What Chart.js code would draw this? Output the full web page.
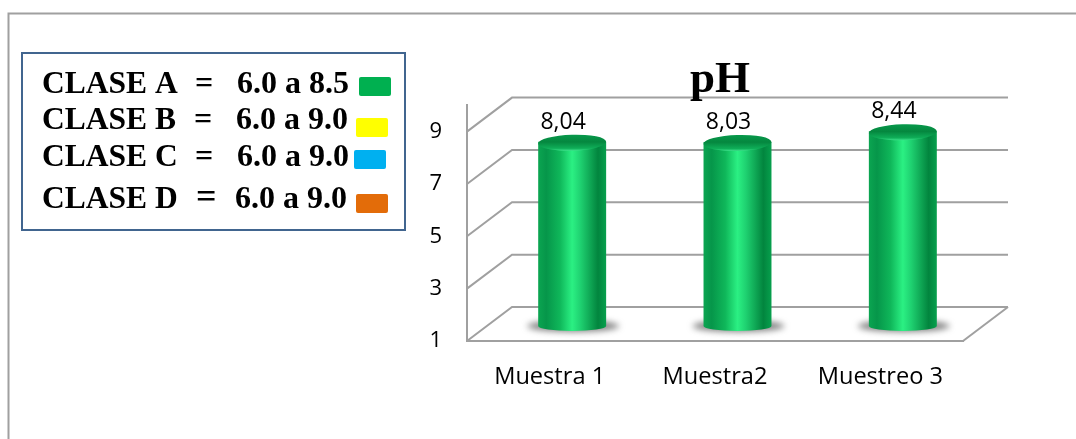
<!DOCTYPE html>
<html><head><meta charset="utf-8">
<style>html,body{margin:0;padding:0;background:#fff;overflow:hidden}canvas{display:block}</style>
<script src="https://cdn.jsdelivr.net/npm/chart.js@4"></script></head>
<body><canvas id="c" width="1076" height="439"></canvas>
<script>
const categories = ['Muestra 1','Muestra2','Muestreo 3'];
const phValues = [8.04,8.03,8.44];
const yTickValues = [1,3,5,7,9];
const yMin = 1, yMax = 10;
const title = 'pH';
const classNames = ['CLASE A','CLASE B','CLASE C','CLASE D'];
const classRanges = ['6.0 a 8.5','6.0 a 9.0','6.0 a 9.0','6.0 a 9.0'];
const classColors = ['#00b050','#ffff00','#00b0f0','#e36c09'];

// layout of the legend box (not data)
const legendRows = [
 {base:93, eq:195, eqSize:32, val:237, sw:[359,77]},
 {base:129,eq:194, eqSize:32, val:236, sw:[356,118]},
 {base:166,eq:195, eqSize:32, val:237, sw:[354,150]},
 {base:208,eq:196, eqSize:36, val:235, sw:[356,194]}
];
const DEPTH_X = 45, DEPTH_Y = 34, BAR_DX = 22.5, BAR_DY = -15, BAR_PCT = .411;
const GRID = '#a0a0a0';
const SANS = '"Open Sans"';

function barGradient(ctx, l, r){
  const g = ctx.createLinearGradient(l,0,r,0);
  g.addColorStop(0,'#0ba551');
  g.addColorStop(.12,'#06964a');
  g.addColorStop(.32,'#0fb75a');
  g.addColorStop(.5,'#2bf083');
  g.addColorStop(.62,'#1fd271');
  g.addColorStop(.88,'#02853e');
  g.addColorStop(1,'#07a04d');
  return g;
}
const scene = {
  id:'scene',
  afterLayout(chart){ chart.titleBlock.left+=5; chart.titleBlock.right+=5; },
  beforeDraw(chart){
    const {ctx,chartArea:a,scales:{y}} = chart;
    ctx.save();
    ctx.strokeStyle='#a0a0a0'; ctx.lineWidth=2;
    ctx.beginPath(); ctx.moveTo(8.5,439); ctx.lineTo(8.5,13.5); ctx.lineTo(1076,13.5); ctx.stroke();
    ctx.strokeStyle=GRID; ctx.lineWidth=2;
    y.ticks.forEach(t=>{
      const py=y.getPixelForValue(t.value);
      ctx.beginPath(); ctx.moveTo(a.left,py); ctx.lineTo(a.left+DEPTH_X,py-DEPTH_Y);
      ctx.lineTo(a.right+DEPTH_X,py-DEPTH_Y); ctx.stroke();
    });
    const py=y.getPixelForValue(yMin);
    ctx.beginPath(); ctx.moveTo(a.right,py); ctx.lineTo(a.right+DEPTH_X,py-DEPTH_Y); ctx.stroke();
    ctx.restore();
  },
  beforeDatasetsDraw(chart){
    const {ctx} = chart;
    ctx.save();
    ctx.translate(BAR_DX,BAR_DY);
    chart.getDatasetMeta(0).data.forEach(b=>{
      const w=b.width/2;
      ctx.save();
      ctx.filter='blur(3px)';
      ctx.fillStyle='rgba(90,90,90,.75)';
      ctx.beginPath(); ctx.ellipse(b.x+1,b.base,w+12,6,0,0,Math.PI*2); ctx.fill();
      ctx.restore();
    });
  },
  afterDatasetsDraw(chart){
    const {ctx} = chart;
    chart.getDatasetMeta(0).data.forEach((b,i)=>{
      const w=b.width/2, l=b.x-w, r=b.x+w;
      ctx.fillStyle=barGradient(ctx,l,r);
      ctx.beginPath(); ctx.ellipse(b.x,b.base,w,5,0,0,Math.PI); ctx.fill();
      const cy=b.y+1;
      const tg=ctx.createLinearGradient(0,cy-8,0,cy+8);
      tg.addColorStop(0,'#07994b'); tg.addColorStop(.45,'#05873f'); tg.addColorStop(.85,'#0fae58'); tg.addColorStop(1,'#3ce08a');
      ctx.fillStyle=tg;
      ctx.beginPath(); ctx.ellipse(b.x,cy,w,8,-0.03,0,Math.PI*2); ctx.fill();
      ctx.fillStyle='#000'; ctx.font='23px '+SANS; ctx.textAlign='center'; ctx.textBaseline='alphabetic';
      ctx.fillText(phValues[i].toFixed(2).replace('.',','), b.x-9, b.y-13);
    });
    ctx.restore();
  },
  afterDraw(chart){
    const {ctx} = chart;
    ctx.save();
    ctx.strokeStyle='#41658f'; ctx.lineWidth=2;
    ctx.fillStyle='#fff';
    ctx.beginPath(); ctx.rect(22,53,383,177); ctx.fill(); ctx.stroke();
    ctx.textBaseline='alphabetic'; ctx.textAlign='left';
    legendRows.forEach((r,i)=>{
      ctx.fillStyle='#000';
      ctx.font='bold 31.5px "Liberation Serif"';
      ctx.fillText(classNames[i],42,r.base);
      ctx.font='bold '+r.eqSize+'px "Liberation Serif"';
      ctx.fillText('=',r.eq,r.base);
      ctx.font='bold 32px "Liberation Serif"';
      ctx.fillText(classRanges[i],r.val,r.base);
      ctx.fillStyle=classColors[i];
      ctx.beginPath(); ctx.roundRect(r.sw[0],r.sw[1],32,19,2); ctx.fill();
    });
    ctx.restore();
  }
};
new Chart(document.getElementById('c'),{
  type:'bar',
  data:{labels:categories,datasets:[{data:phValues,base:yMin,
    backgroundColor(c){
      const x=c.chart.scales.x, i=c.dataIndex;
      if(!x||i===undefined) return '#0bb050';
      const cx=x.getPixelForTick(i), hw=x.width/categories.length*BAR_PCT/2;
      if(!isFinite(cx)||!isFinite(hw)) return '#0bb050';
      return barGradient(c.chart.ctx,cx-hw,cx+hw);},
    borderWidth:0,barPercentage:BAR_PCT,categoryPercentage:1}]},
  options:{responsive:false,animation:false,
    layout:{padding:{left:422,right:113,top:40,bottom:0}},
    plugins:{legend:{display:false},tooltip:{enabled:false},
      title:{display:true,text:title,fullSize:false,color:'#000',
        font:{family:'"Liberation Serif"',size:45,weight:'bold'},padding:{top:13,bottom:-1.6}}},
    scales:{
      x:{grid:{display:false,drawTicks:false},border:{display:true,color:GRID,width:2},
        ticks:{color:'#000',font:{family:SANS,size:23.6},padding:22,maxRotation:0},
        afterFit(s){s.height=98;}},
      y:{min:yMin,max:yMax,grid:{display:false,drawTicks:false},border:{display:true,color:GRID,width:2},
        afterBuildTicks(s){s.ticks=yTickValues.map(v=>({value:v}));},
        ticks:{color:'#000',font:{family:SANS,size:22},padding:25},
        afterFit(s){s.width=45;}}
    }},
  plugins:[scene]
});
</script></body></html>
